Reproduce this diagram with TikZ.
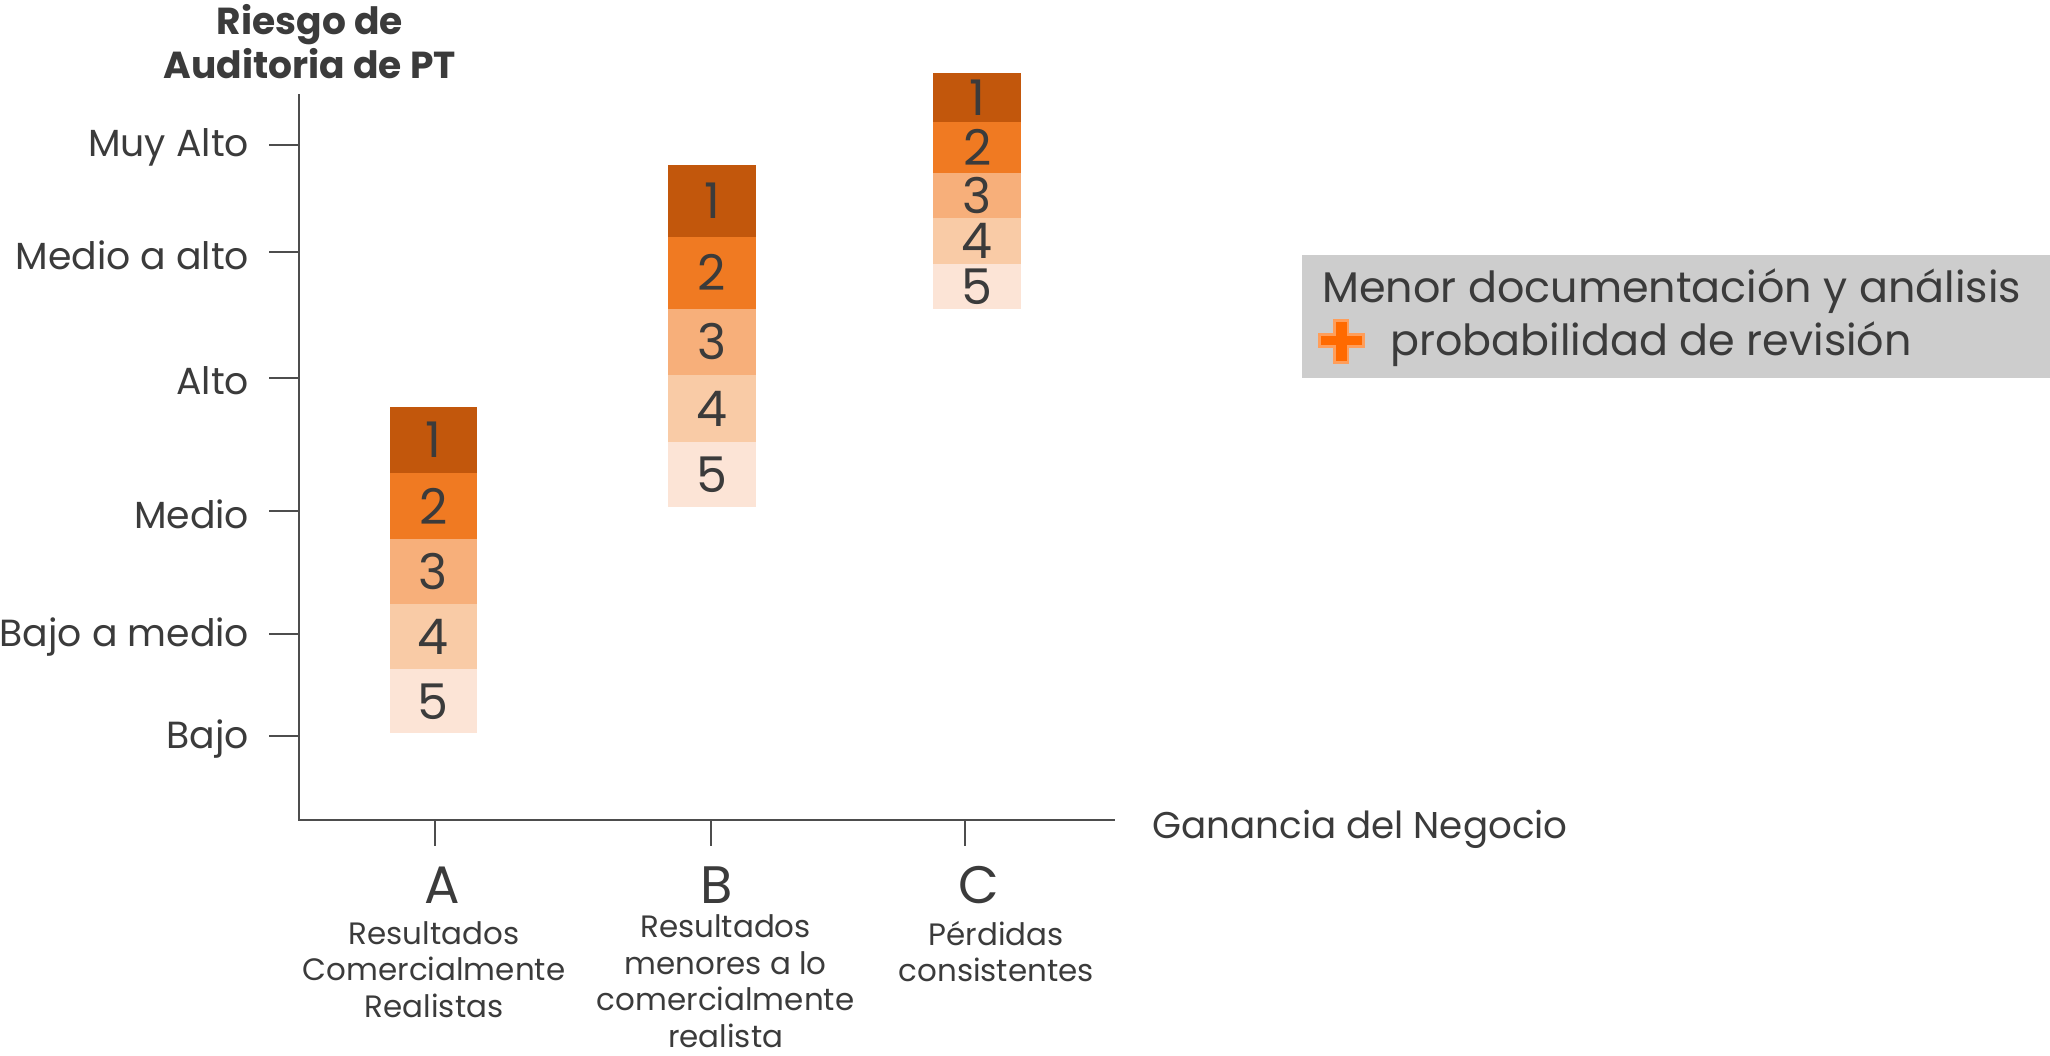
\documentclass[tikz,border=0pt]{standalone}
\usepackage{fontspec}
\setmainfont{Poppins}
\usetikzlibrary{positioning}

\definecolor{tono1}{HTML}{C2570C}
\definecolor{tono2}{HTML}{F07A22}
\definecolor{tono3}{HTML}{F7AF7A}
\definecolor{tono4}{HTML}{F9CBA6}
\definecolor{tono5}{HTML}{FCE4D6}
\definecolor{texto}{HTML}{3B3B3B}
\definecolor{eje}{HTML}{4D4D4D}
\definecolor{caja}{HTML}{CDCDCD}
\definecolor{cruz}{HTML}{FF6A00}
\definecolor{cruzborde}{HTML}{FF9E5A}

\tikzset{
  linea/.style={draw=eje, line width=0.6pt},
  nivel/.style={anchor=east, text=texto, inner sep=0pt, font=\fontsize{10.75}{12}\selectfont},
  letra/.style={text=texto, font=\fontsize{15}{17}\selectfont},
  rotulo/.style={anchor=north, align=center, text=texto, inner sep=0pt,
    font=\fontsize{8.8}{10.4}\selectfont},
  cifra/.style={text=texto, inner sep=0pt, font=\fontsize{14}{16}\selectfont},
  leyenda/.style={anchor=west, text=texto, inner sep=0pt,
    font=\fontsize{12.2}{14}\selectfont}
}

\begin{document}
\begin{tikzpicture}[x=0.013074cm, y=-0.013074cm]
    \useasboundingbox (0,0) rectangle (1568,807);

    % ejes
    \coordinate (origen) at (229,627);
    \coordinate (arriba) at (229,72);
    \coordinate (derecha) at (853,627);
    \draw [linea] (arriba) -- (origen) -- (derecha);
    \node [align=center, text=texto, inner sep=0pt, font=\fontsize{10.7}{12.6}\selectfont\bfseries] (titulo) at (237,32) {Riesgo de\\Auditoria de PT};
    \node [anchor=west, text=texto, inner sep=0pt, font=\fontsize{10.6}{13}\selectfont] (ganancia) at (881,634) {Ganancia del Negocio};

    % niveles de riesgo
    \foreach \y/\t in {111/Muy Alto, 193/Medio a alto, 289/Alto, 391/Medio, 485/Bajo a medio, 563/Bajo}{
        \draw [linea] (206,\y) -- (229,\y);
        \node [nivel] at (191,\y+2) {\t};
    }

    % categorias
    \draw [linea] (333,627) -- (333,647);
    \draw [linea] (544,627) -- (544,647);
    \draw [linea] (738,627) -- (738,647);
    \node [letra] (letraA) at (338,677) {A};
    \node [letra] (letraB) at (548,677) {B};
    \node [letra] (letraC) at (749,677) {C};
    \node [rotulo] (textoA) at (332,704) {Resultados\\Comercialmente\\Realistas};
    \node [rotulo] (textoB) at (555,699) {Resultados\\menores a lo\\comercialmente\\realista};
    \node [rotulo] (textoC) at (762,704) {Pérdidas\\consistentes};

    % barra A
    \foreach \n/\ya/\yb in {1/311/362, 2/362/412, 3/412/462, 4/462/512, 5/512/561}{
        \fill [tono\n] (298,\ya) rectangle (365,\yb);
        \node [cifra] (a\n) at (331.5,{(\ya+\yb)/2}) {\n};
    }
    % barra B
    \foreach \n/\ya/\yb in {1/126/181, 2/181/236, 3/236/287, 4/287/338, 5/338/388}{
        \fill [tono\n] (511,\ya) rectangle (578,\yb);
        \node [cifra] (b\n) at (544.5,{(\ya+\yb)/2}) {\n};
    }
    % barra C
    \foreach \n/\ya/\yb in {1/56/93, 2/93/132, 3/132/167, 4/167/202, 5/202/236}{
        \fill [tono\n] (714,\ya) rectangle (781,\yb);
        \node [cifra] (c\n) at (747.5,{(\ya+\yb)/2}) {\n};
    }

    % leyenda
    \fill [caja] (996,195) rectangle (1568,289);
    \node [leyenda] (menor) at (1011,223) {Menor documentación y análisis};
    \node [leyenda] (proba) at (1063,263) {probabilidad de revisión};
    \filldraw [fill=cruz, draw=cruzborde, line width=0.8pt]
        (1021,245) -- (1031,245) -- (1031,256) -- (1043,256) -- (1043,265)
        -- (1031,265) -- (1031,277) -- (1021,277) -- (1021,265) -- (1009,265)
        -- (1009,256) -- (1021,256) -- cycle;
\end{tikzpicture}
\end{document}
